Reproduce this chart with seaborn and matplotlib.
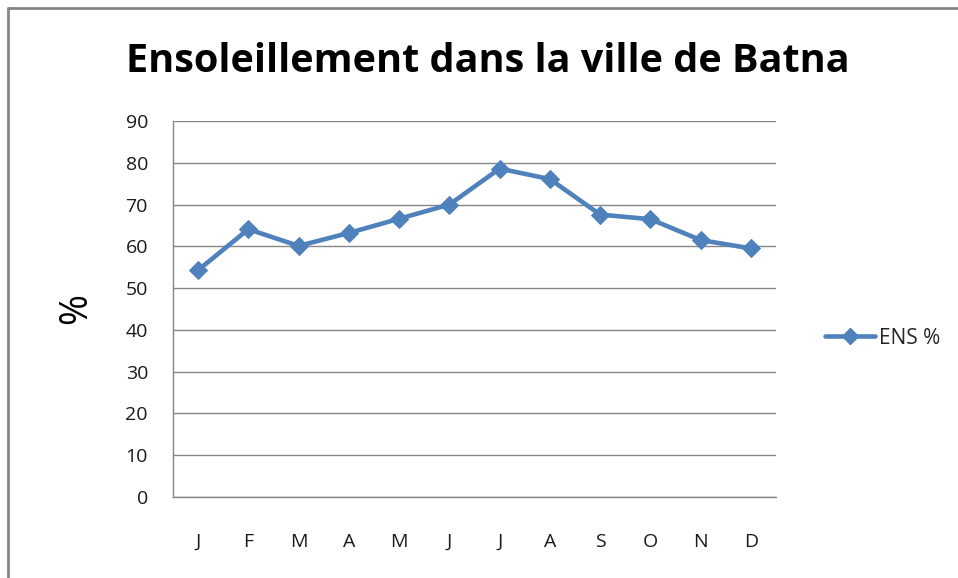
import matplotlib
matplotlib.use("Agg")
import matplotlib.pyplot as plt
import seaborn as sns
import pandas as pd
from matplotlib.lines import Line2D

# données
mois = ['J', 'F', 'M', 'A', 'M', 'J', 'J', 'A', 'S', 'O', 'N', 'D']
ens_pct = [54.3, 64.1, 60.1, 63.2, 66.6, 70.0, 78.6, 76.1, 67.6, 66.5, 61.5, 59.5]
y_ticks = [0, 10, 20, 30, 40, 50, 60, 70, 80, 90]

BLEU = '#4F81BD'
GRIS = '#868686'

sns.set_style("white")
plt.rcParams['font.family'] = ['Open Sans', 'DejaVu Sans']

df = pd.DataFrame({'pos': range(len(mois)), 'ens': ens_pct})

fig = plt.figure(figsize=(9.58, 5.78), dpi=100)
ax = fig.add_axes([173 / 958, 1 - 497 / 578, 603 / 958, 376 / 578])

sns.lineplot(data=df, x='pos', y='ens', ax=ax, color=BLEU, linewidth=3.3,
             marker='D', markersize=9.5, markeredgecolor=BLEU, legend=False)

ax.set_xlim(-0.5, len(mois) - 0.5)
ax.set_ylim(0, 90)
ax.set_yticks(y_ticks)
ax.set_xticks(range(len(mois)))
ax.set_xticklabels(mois)
ax.tick_params(axis='both', length=0, labelsize=14, colors='#1a1a1a')
ax.tick_params(axis='x', pad=26)
ax.tick_params(axis='y', pad=18)
ax.grid(axis='y', color=GRIS, linewidth=1)
ax.set_axisbelow(True)
for s in ['top', 'right']:
    ax.spines[s].set_visible(False)
for s in ['left', 'bottom']:
    ax.spines[s].set_color(GRIS)
    ax.spines[s].set_linewidth(1)

ax.set_xlabel('')
ax.set_ylabel('%', fontsize=27, labelpad=22, color='black')

fig.text(488 / 958, 1 - 62 / 578, 'Ensoleillement dans la ville de Batna',
         ha='center', va='center', fontsize=28.5, fontweight='bold', color='black')

# légende
handle = Line2D([], [], color=BLEU, linewidth=3.3, marker='D', markersize=8.5)
fig.legend([handle], ['ENS %'], loc='center left',
           bbox_to_anchor=(806 / 958, 1 - 338 / 578), frameon=False,
           fontsize=15, handlelength=2.4, handletextpad=0.2)

# cadre extérieur (haut et gauche)
fig.add_artist(Line2D([8 / 958, 1], [1 - 8 / 578, 1 - 8 / 578], color=GRIS, linewidth=2,
                      transform=fig.transFigure))
fig.add_artist(Line2D([8 / 958, 8 / 958], [0, 1 - 8 / 578], color=GRIS, linewidth=2,
                      transform=fig.transFigure))

fig.savefig('out.png', dpi=100)
